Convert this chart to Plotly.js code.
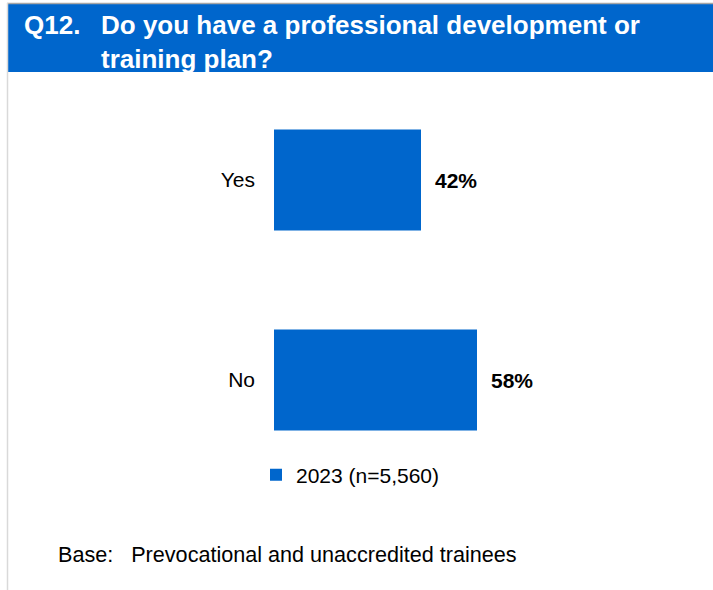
<!DOCTYPE html>
<html>
<head>
<meta charset="utf-8">
<script src="https://cdn.plot.ly/plotly-3.0.1.min.js"></script>
<style>html,body{margin:0;padding:0;background:#fff;}#chart{width:713px;height:590px;}</style>
</head>
<body>
<div id="chart"></div>
<script>
const categories = ['Yes', 'No'];
const values2023 = [42, 58];
const seriesName = '2023 (n=5,560)';
const questionNo = 'Q12.';
const questionText = 'Do you have a professional development or<br>training plan?';
const baseNote = 'Base:\u00a0\u00a0 Prevocational and unaccredited trainees';

const W = 713, H = 590;
const L = 274, R = 89, T = 80, B = 110;
const pw = W - L - R, ph = H - T - B;
const px = x => (x - L) / pw;          // pixel -> paper x
const py = y => (H - B - y) / ph;      // pixel -> paper y

const blue = '#0066CC';
const font = 'Arial, "Liberation Sans", sans-serif';

const trace = {
  type: 'bar',
  orientation: 'h',
  y: categories,
  x: values2023,
  name: seriesName,
  marker: { color: blue },
  width: 0.505,
  hoverinfo: 'none',
  showlegend: true
};

const valueAnnotations = categories.map((c, i) => ({
  x: values2023[i], y: c, xref: 'x', yref: 'y',
  text: '<b>' + values2023[i] + '%</b>',
  showarrow: false, xanchor: 'left', xshift: 12,
  font: { family: font, size: 21, color: '#000' }
}));

const layout = {
  width: W, height: H,
  margin: { l: L, r: R, t: T, b: B, pad: 0 },
  paper_bgcolor: '#fff', plot_bgcolor: '#fff',
  font: { family: font, size: 21, color: '#000' },
  title: {
    text: questionText,
    font: { family: font, size: 26, color: '#fff', weight: 'bold' },
    x: 101 / W, xanchor: 'left', xref: 'container',
    y: 1 - 34 / H, yanchor: 'middle', yref: 'container'
  },
  xaxis: { range: [0, 100], visible: false, showgrid: false, zeroline: false, fixedrange: true },
  yaxis: {
    autorange: 'reversed', showgrid: false, zeroline: false, showline: false,
    ticks: '', ticklabelstandoff: 18,
    tickfont: { family: font, size: 21, color: '#000' }
  },
  legend: {
    orientation: 'h', x: px(256), xanchor: 'left', y: py(475), yanchor: 'middle',
    font: { family: font, size: 21, color: '#000' }, bgcolor: 'rgba(0,0,0,0)',
    itemwidth: 30
  },
  shapes: [
    { type: 'rect', xref: 'paper', yref: 'paper', x0: px(8), x1: px(713), y0: py(72), y1: py(4),
      fillcolor: blue, line: { width: 0 }, layer: 'below' },
    { type: 'line', xref: 'paper', yref: 'paper', x0: px(7), x1: px(713), y0: py(3.5), y1: py(3.5),
      line: { color: '#A6A6A6', width: 1.5 } },
    { type: 'line', xref: 'paper', yref: 'paper', x0: px(7.5), x1: px(7.5), y0: py(3), y1: py(590),
      line: { color: '#D9D9D9', width: 1.5 } }
  ],
  annotations: valueAnnotations.concat([
    { xref: 'paper', yref: 'paper', x: px(22), y: py(25), xanchor: 'left', yanchor: 'middle',
      text: '<b>' + questionNo + '</b>', showarrow: false,
      font: { family: font, size: 26, color: '#fff' } },
    { xref: 'paper', yref: 'paper', x: px(56), y: py(554), xanchor: 'left', yanchor: 'middle',
      text: baseNote, showarrow: false,
      font: { family: font, size: 21.6, color: '#000' } }
  ]),
  showlegend: true,
  bargap: 0.5
};

Plotly.newPlot('chart', [trace], layout, { displayModeBar: false, staticPlot: true });
</script>
</body>
</html>
